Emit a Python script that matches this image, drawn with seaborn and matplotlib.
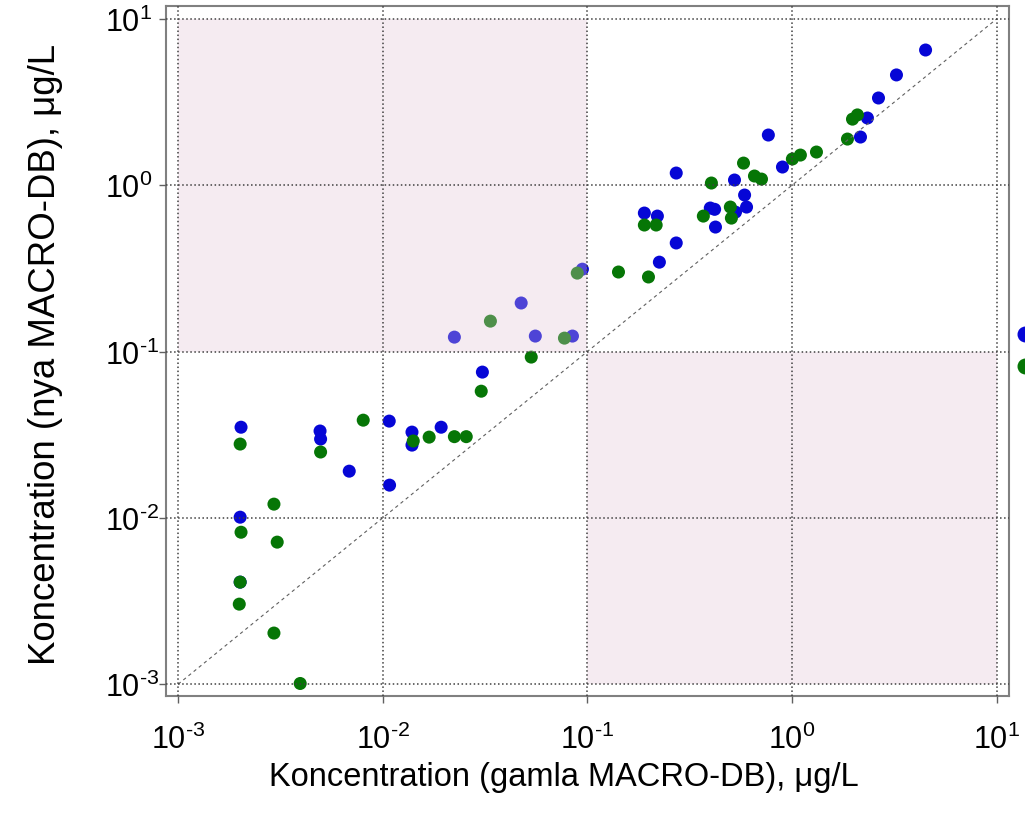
import numpy as np
import pandas as pd
import matplotlib
matplotlib.use("Agg")
import matplotlib.pyplot as plt
import seaborn as sns
from matplotlib.lines import Line2D
from matplotlib.ticker import LogLocator, FuncFormatter, NullLocator

# data: old vs new MACRO-DB concentration (ug/L)
blue_gamla = [0.00203, 0.00494, 0.00497, 0.00686, 0.01076, 0.0108, 0.00201, 0.00201,
              0.0139, 0.0139, 0.0193, 0.0307, 0.0224, 0.0475, 0.0557, 0.0846,
              0.0946, 0.225, 0.272, 0.272, 0.190, 0.220, 0.423, 0.399,
              0.419, 0.530, 0.600, 0.587, 0.524, 0.899, 0.767, 2.163,
              2.339, 2.649, 3.243, 4.50]
blue_nya = [0.0351, 0.0333, 0.0298, 0.0191, 0.0382, 0.01574, 0.0101, 0.00411,
            0.0328, 0.0274, 0.0351, 0.0753, 0.1222, 0.196, 0.124, 0.124,
            0.313, 0.345, 0.450, 1.185, 0.681, 0.653, 0.561, 0.730,
            0.717, 0.690, 0.740, 0.874, 1.076, 1.288, 2.006, 1.951,
            2.539, 3.35, 4.61, 6.51]

green_gamla = [0.00201, 0.00497, 0.00803, 0.00294, 0.00203, 0.00305, 0.00201, 0.00199,
               0.00294, 0.00395, 0.0141, 0.01686, 0.0224, 0.0256, 0.0303, 0.0532,
               0.0336, 0.0773, 0.0893, 0.142, 0.199, 0.190, 0.217, 0.369,
               0.500, 0.506, 0.404, 0.580, 0.656, 0.710, 1.005, 1.10,
               1.318, 1.868, 1.977, 2.09]
green_nya = [0.0278, 0.0249, 0.0387, 0.0121, 0.0082, 0.00715, 0.00411, 0.00303,
             0.00203, 0.00101, 0.029, 0.0306, 0.0308, 0.0308, 0.0578, 0.0927,
             0.1525, 0.1205, 0.2965, 0.301, 0.281, 0.577, 0.577, 0.653,
             0.740, 0.635, 1.032, 1.36, 1.137, 1.09, 1.44, 1.52,
             1.585, 1.897, 2.50, 2.65]

df = pd.DataFrame({
    'gamla': blue_gamla + green_gamla,
    'nya': blue_nya + green_nya,
    'serie': ['blue'] * len(blue_gamla) + ['green'] * len(green_gamla),
})

plt.rcParams['font.family'] = ['Liberation Sans', 'DejaVu Sans']
plt.rcParams['mathtext.fontset'] = 'custom'
plt.rcParams['mathtext.rm'] = 'Liberation Sans'
plt.rcParams['mathtext.it'] = 'Liberation Sans:italic'

fig = plt.figure(figsize=(10.25, 8.28), dpi=100)
ax = fig.add_axes([0.162, 0.158, 0.822, 0.8335])

sns.scatterplot(data=df, x='gamla', y='nya', hue='serie',
                palette={'blue': '#0606d6', 'green': '#067606'},
                s=88, linewidth=0, ax=ax, zorder=1, legend=False)

ax.set_xscale('log')
ax.set_yscale('log')
ax.set_xlim(10 ** -3.059, 10 ** 1.059)
ax.set_ylim(10 ** -3.072, 10 ** 1.078)

# shaded quadrants (drawn over the points, semi transparent)
ax.fill_between([1e-3, 0.1], 0.1, 10, color='#e3c5d7', alpha=0.33, lw=0, zorder=1.5)
ax.fill_between([0.1, 10], 1e-3, 0.1, color='#e3c5d7', alpha=0.33, lw=0, zorder=1.5)

# 1:1 line
ax.plot([1e-3, 10], [1e-3, 10], ls=(0, (3, 3)), color='#606060', lw=0.8, zorder=2)


def pow10(v, pos):
    e = int(round(np.log10(v)))
    # short hyphen for negative exponents, like the original
    s = ('\u2010%d' % -e) if e < 0 else '%d' % e
    return r'$\mathdefault{10^{%s}}$' % s


for axis in (ax.xaxis, ax.yaxis):
    axis.set_major_locator(LogLocator(base=10, numticks=10))
    axis.set_major_formatter(FuncFormatter(pow10))
    axis.set_minor_locator(NullLocator())

ax.grid(True, which='major', ls=':', color='#404040', lw=1.1, zorder=2.5)
ax.set_axisbelow(False)
for sp in ax.spines.values():
    sp.set_color('#808080')
    sp.set_linewidth(1.5)
ax.tick_params(axis='both', which='major', direction='out', length=5, width=1,
               color='#606060', labelsize=22)
ax.tick_params(axis='x', pad=15)
# y tick labels are left aligned in the original
ax.tick_params(axis='y', pad=39)
plt.setp(ax.get_yticklabels(), ha='left')

ax.set_xlabel('Koncentration (gamla MACRO-DB), μg/L', fontsize=23.5)
ax.set_ylabel('Koncentration (nya MACRO-DB), μg/L', fontsize=26.4)
ax.xaxis.set_label_coords(0.4727, -0.094)
ax.yaxis.set_label_coords(-0.1225, 0.497)

# legend sits just outside the right edge (cut off in the original)
handles = [Line2D([], [], marker='o', ls='', color='#0606d6', markersize=10.5),
           Line2D([], [], marker='o', ls='', color='#067606', markersize=10.5)]
ax.legend(handles, ['', ''], loc='center left', bbox_to_anchor=(1.0, 0.5),
          frameon=False, handletextpad=0.2, labelspacing=1.3, borderaxespad=0.3,
          handlelength=1.0)

plt.savefig('out.png', dpi=100)
